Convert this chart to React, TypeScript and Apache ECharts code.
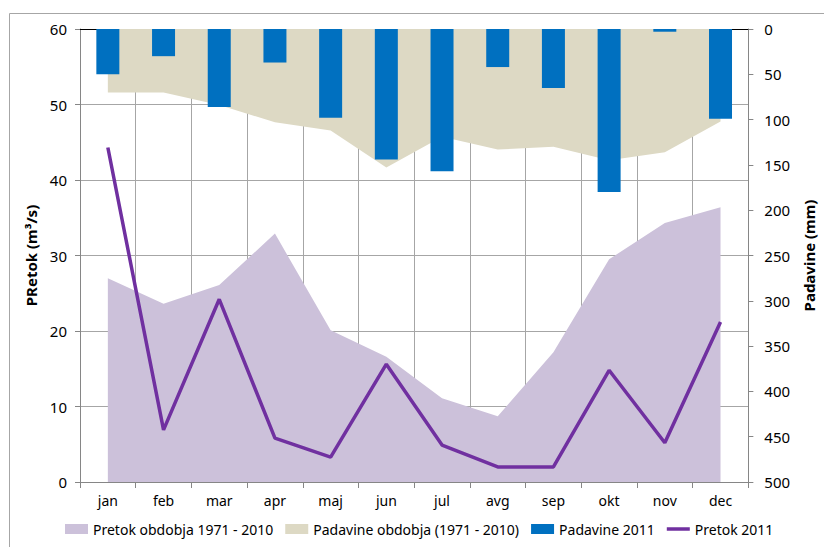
import React, { useEffect, useRef } from "react";
import * as echarts from "echarts";

const months = ["jan", "feb", "mar", "apr", "maj", "jun", "jul", "avg", "sep", "okt", "nov", "dec"];
const pretokObdobja = [27.0, 23.6, 26.1, 32.9, 20.1, 16.6, 11.1, 8.7, 17.2, 29.5, 34.3, 36.4];
const padavineObdobja = [70, 70, 84, 103, 112, 153, 119, 133, 130, 145, 136, 102];
const padavine2011 = [50, 30, 86, 37, 98, 144, 157, 42, 65, 180, 3, 99];
const pretok2011 = [44.3, 6.9, 24.2, 5.8, 3.3, 15.6, 4.9, 2.0, 2.0, 14.8, 5.2, 21.2];

const FONT = "Noto Sans";
const LINE_ICON = "path://M0,0h0.01v0.01h-0.01zM0,3.2h23v3.6h-23zM22.99,9.99h0.01v0.01h-0.01z";

export default function App() {
  const ref = useRef<HTMLDivElement>(null);
  useEffect(() => {
    document.body.style.margin = "0";
    const chart = echarts.init(ref.current!, null, { renderer: "svg" });
    const axisLine = { show: true, lineStyle: { color: "#868686", width: 1 } };
    chart.setOption({
      animation: false,
      textStyle: { fontFamily: FONT, color: "#000" },
      grid: { left: 80, right: 68, top: 29, bottom: 65 },
      graphic: [
        {
          type: "rect",
          shape: { x: 9.5, y: 13.5, width: 900, height: 600 },
          style: { fill: "none", stroke: "#a6a6a6", lineWidth: 1 },
          silent: true,
        },
      ],
      legend: {
        bottom: 6,
        left: 60,
        itemWidth: 23,
        itemHeight: 10,
        itemGap: 12,
        textStyle: { fontFamily: FONT, fontSize: 14, color: "#000" },
        data: [
          { name: "Pretok obdobja 1971 - 2010", icon: "rect" },
          { name: "Padavine obdobja (1971 - 2010)", icon: "rect" },
          { name: "Padavine 2011", icon: "rect" },
          { name: "Pretok 2011", icon: LINE_ICON },
        ],
      },
      xAxis: [
        {
          type: "category",
          data: months,
          position: "bottom",
          axisLine,
          axisTick: { show: true, length: 6, lineStyle: { color: "#868686" } },
          axisLabel: { fontFamily: FONT, fontSize: 14, color: "#000", margin: 11 },
          splitLine: { show: true, lineStyle: { color: "#a6a6a6" } },
        },
        {
          type: "category",
          data: months,
          position: "top",
          axisLine: { show: true, lineStyle: { color: "#000", width: 1 } },
          axisTick: { show: false },
          axisLabel: { show: false },
          splitLine: { show: false },
        },
      ],
      yAxis: [
        {
          type: "value",
          min: 0,
          max: 60,
          interval: 10,
          position: "left",
          name: "PRetok (m³/s)",
          nameLocation: "middle",
          nameRotate: 90,
          nameGap: 41,
          nameTextStyle: { fontFamily: FONT, fontSize: 15, fontWeight: "bold", color: "#000" },
          axisLine,
          axisTick: { show: true, length: 5, lineStyle: { color: "#868686" } },
          axisLabel: { fontFamily: FONT, fontSize: 15, color: "#000", margin: 13 },
          splitLine: { show: true, lineStyle: { color: "#a6a6a6" } },
        },
        {
          type: "value",
          min: 0,
          max: 500,
          interval: 50,
          inverse: true,
          position: "right",
          name: "Padavine (mm)",
          nameLocation: "middle",
          nameRotate: 90,
          nameGap: 50,
          nameTextStyle: { fontFamily: FONT, fontSize: 15, fontWeight: "bold", color: "#000" },
          axisLine,
          axisTick: { show: true, length: 5, lineStyle: { color: "#868686" } },
          axisLabel: { fontFamily: FONT, fontSize: 15, color: "#000", margin: 16 },
          splitLine: { show: false },
        },
      ],
      series: [
        {
          name: "Padavine obdobja (1971 - 2010)",
          type: "line",
          yAxisIndex: 1,
          data: padavineObdobja,
          symbol: "none",
          lineStyle: { width: 0 },
          itemStyle: { color: "#DDD9C4" },
          areaStyle: { color: "#DDD9C4", opacity: 1 },
          z: 1,
        },
        {
          name: "Pretok obdobja 1971 - 2010",
          type: "line",
          yAxisIndex: 0,
          data: pretokObdobja,
          symbol: "none",
          lineStyle: { width: 0 },
          itemStyle: { color: "#CCC1DA" },
          areaStyle: { color: "#CCC1DA", opacity: 1 },
          z: 1,
        },
        {
          name: "Padavine 2011",
          type: "bar",
          yAxisIndex: 1,
          data: padavine2011,
          barWidth: 23,
          itemStyle: { color: "#0070C0" },
          z: 2,
        },
        {
          name: "Pretok 2011",
          type: "line",
          yAxisIndex: 0,
          data: pretok2011,
          symbol: "none",
          lineStyle: { width: 3.5, color: "#7030A0" },
          itemStyle: { color: "#7030A0" },
          z: 3,
        },
      ],
    });
    return () => chart.dispose();
  }, []);
  return <div ref={ref} style={{ width: 824, height: 547 }} />;
}
